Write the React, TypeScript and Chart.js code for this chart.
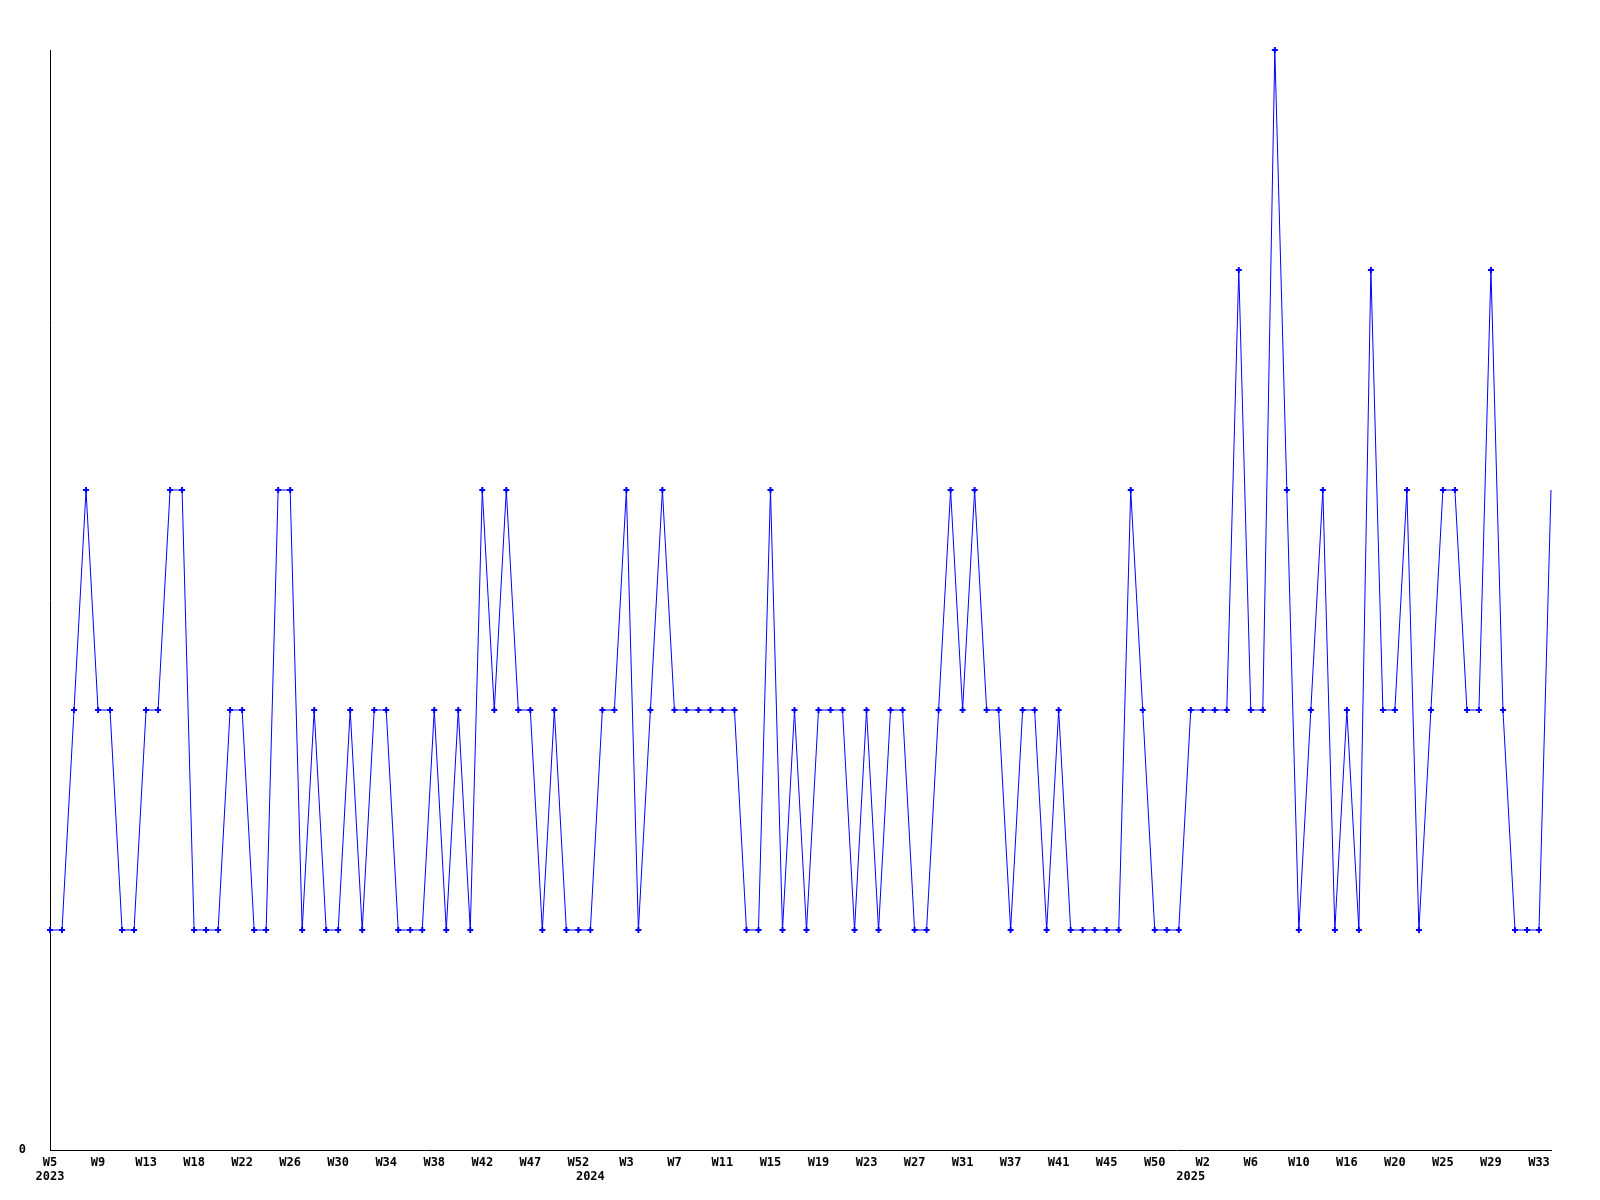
import React, { useEffect, useRef } from "react";
import { Chart, registerables } from "chart.js";

Chart.register(...registerables);

const weekLabels: string[] = [
  "W5", "W6", "W7", "W8", "W9", "W10", "W11", "W12", "W13", "W14", "W15", "W16",
  "W18", "W19", "W20", "W21", "W22", "W23", "W24", "W25", "W26", "W27", "W28", "W29",
  "W30", "W31", "W32", "W33", "W34", "W35", "W36", "W37", "W38", "W39", "W40", "W41",
  "W42", "W43", "W44", "W45", "W47", "W48", "W49", "W50", "W52",
  "W0", "W1", "W2", "W3", "W4", "W5", "W6", "W7", "W8", "W9", "W10", "W11",
  "W12", "W13", "W14", "W15", "W16", "W17", "W18", "W19", "W20", "W21", "W22", "W23",
  "W24", "W25", "W26", "W27", "W28", "W29", "W30", "W31", "W32", "W33", "W35", "W37",
  "W38", "W39", "W40", "W41", "W42", "W43", "W44", "W45", "W46", "W47", "W49", "W50",
  "W51", "W52",
  "W1", "W2", "W3", "W4", "W5", "W6", "W7", "W8", "W9", "W10", "W11", "W12", "W14",
  "W16", "W17", "W18", "W19", "W20", "W21", "W22", "W24", "W25", "W26", "W27", "W28",
  "W29", "W30", "W31", "W32", "W33", "W34",
];

const weekYears: number[] = [
  ...Array(45).fill(2023),
  ...Array(50).fill(2024),
  ...Array(31).fill(2025),
];

const values: number[] = [
  1, 1, 2, 3, 2, 2, 1, 1, 2, 2,
  3, 3, 1, 1, 1, 2, 2, 1, 1, 3,
  3, 1, 2, 1, 1, 2, 1, 2, 2, 1,
  1, 1, 2, 1, 2, 1, 3, 2, 3, 2,
  2, 1, 2, 1, 1, 1, 2, 2, 3, 1,
  2, 3, 2, 2, 2, 2, 2, 2, 1, 1,
  3, 1, 2, 1, 2, 2, 2, 1, 2, 1,
  2, 2, 1, 1, 2, 3, 2, 3, 2, 2,
  1, 2, 2, 1, 2, 1, 1, 1, 1, 1,
  3, 2, 1, 1, 1, 2, 2, 2, 2, 4,
  2, 2, 5, 3, 1, 2, 3, 1, 2, 1,
  4, 2, 2, 3, 1, 2, 3, 3, 2, 2,
  4, 2, 1, 1, 1, 3,
];

const yTickLabels: string[] = ["0"];

const LABEL_EVERY = 4;

export default function App() {
  const ref = useRef<HTMLCanvasElement | null>(null);

  useEffect(() => {
    document.body.style.margin = "0";
    const canvas = ref.current;
    if (!canvas) return;

    const yearRow = weekYears.map((y, i) =>
      i === 0 || weekYears[i - 1] !== y ? String(y) : ""
    );

    const font = { family: "'DejaVu Sans Mono', monospace", size: 12, weight: "bold" as const };

    const chart = new Chart(canvas, {
      type: "line",
      data: {
        labels: weekLabels,
        datasets: [
          {
            data: values,
            borderColor: "#0000ff",
            backgroundColor: "#0000ff",
            borderWidth: 1,
            fill: false,
            tension: 0,
            clip: false,
            pointStyle: "cross",
            pointRadius: (ctx: any) => (ctx.dataIndex === values.length - 1 ? 0 : 3),
            pointBorderWidth: 2,
            pointBorderColor: "#0000ff",
            pointHoverRadius: 3,
            xAxisID: "x",
            yAxisID: "y",
          },
        ],
      },
      options: {
        responsive: false,
        animation: false,
        events: [],
        layout: { padding: { left: 0, top: 50, right: 49, bottom: 0 } },
        plugins: {
          legend: { display: false },
          tooltip: { enabled: false },
          title: { display: false },
        },
        scales: {
          x: {
            type: "category",
            position: "bottom",
            weight: 0,
            offset: false,
            grid: { display: false, drawTicks: false },
            border: { display: true, color: "#000000", width: 1 },
            ticks: {
              autoSkip: false,
              maxRotation: 0,
              minRotation: 0,
              padding: 6,
              color: "#000000",
              font,
              callback: (_v: any, i: number) => (i % LABEL_EVERY === 0 ? weekLabels[i] : ""),
            },
            afterFit: (s: any) => {
              s.height = 20;
            },
          },
          x2: {
            type: "category",
            position: "bottom",
            weight: 1,
            labels: yearRow,
            offset: false,
            grid: { display: false, drawTicks: false },
            border: { display: false },
            ticks: {
              autoSkip: false,
              maxRotation: 0,
              minRotation: 0,
              padding: 0,
              color: "#000000",
              font,
            },
            afterFit: (s: any) => {
              s.height = 30;
            },
          },
          y: {
            type: "linear",
            min: 0,
            max: 5,
            grid: { display: false, drawTicks: false },
            border: { display: true, color: "#000000", width: 1 },
            ticks: {
              stepSize: 1,
              padding: 24,
              color: "#000000",
              font,
              callback: (v: any) => (v === 0 ? yTickLabels[0] : ""),
            },
            afterFit: (s: any) => {
              s.width = 50;
            },
          },
        },
      },
    });

    return () => {
      chart.destroy();
    };
  }, []);

  return (
    <div style={{ position: "absolute", left: 0, top: 0, width: 1600, height: 1200, background: "#ffffff" }}>
      <canvas ref={ref} width={1600} height={1200} style={{ width: 1600, height: 1200, display: "block" }} />
    </div>
  );
}
